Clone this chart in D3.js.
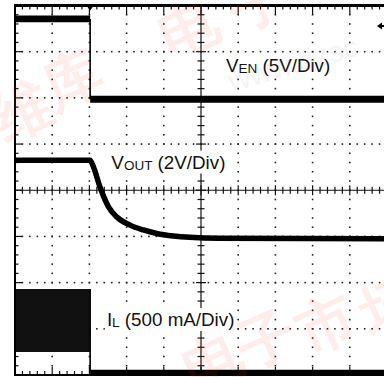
<!DOCTYPE html>
<meta charset="utf-8">
<style>
  body { margin: 0; background: #fff; }
  text { font-family: "Liberation Sans", Arial, Helvetica, sans-serif; }
</style>
<svg id="scope" width="384" height="377"></svg>
<script src="https://cdn.jsdelivr.net/npm/d3@7/dist/d3.min.js"></script>
<script>

// time axis in divisions (10 div across the screen)
var venTime  = [0, 2.02, 2.02, 10.2]
var venVolts = [8.7, 8.7, 0, 0]

var voutTime  = [0, 2.02, 2.10, 2.285, 2.51, 2.73, 3.09, 3.45, 3.81, 4.26, 4.70, 5.50, 10.2]
var voutVolts = [3.4, 3.4, 3.15, 2.24, 1.39, 0.95, 0.59, 0.38, 0.23, 0.12, 0.06, 0.02, 0]

// inductor current: switching envelope while enabled, then zero
var ilTime    = [0, 2.02]
var ilMinAmps = [0.22, 0.22]
var ilMaxAmps = [0.90, 0.90]
var ilOffTime = [2.02, 2.02, 10.2]
var ilOffAmps = [0.90, 0, 0]

var labelMain = ["V", "V", "I"]
var labelSub  = ["EN", "OUT", "L"]
var labelRest = [" (5V/Div)", " (2V/Div)", " (500 mA/Div)"]

var watermarkChars = ["维", "库", "电", "子", "电", "子", "市", "场"]

var svg = d3.select("#scope"),
    pLeft = 15, pTop = 5.5, pRight = 387, pBottom = 375

var x = d3.scaleLinear().domain([0, 10]).range([pLeft, pRight])
var y = d3.scaleLinear().domain([0, 8]).range([pBottom, pTop])

// channel scales: units per division and ground position (div from bottom)
var yEn   = v => y(5.97 + v / 5)
var yOut  = v => y(2.95 + v / 2)
var yIl   = a => y(0.06 + a / 0.5)

svg.append("defs").append("clipPath").attr("id", "plot")
  .append("rect").attr("x", pLeft).attr("y", pTop).attr("width", 384 - pLeft).attr("height", pBottom - pTop)

// dotted grid
var grid = svg.append("g")
d3.range(1, 10).filter(k => k != 5).forEach(function(k) {
  grid.selectAll(null).data(d3.range(0, 8.01, 0.2)).enter().append("rect")
    .attr("x", x(k) - 0.8).attr("y", d => y(d) - 0.8)
    .attr("width", 1.6).attr("height", 1.6).attr("fill", "#222")
})
d3.range(1, 8).filter(k => k != 4).forEach(function(k) {
  grid.selectAll(null).data(d3.range(0, 10.01, 0.2)).enter().append("rect")
    .attr("x", d => x(d) - 0.8).attr("y", y(k) - 0.8)
    .attr("width", 1.6).attr("height", 1.6).attr("fill", "#222")
})

// centre axes with ticks
var axes = svg.append("g").attr("stroke", "#111")
axes.append("line").attr("x1", x(5)).attr("x2", x(5)).attr("y1", pTop).attr("y2", pBottom).attr("stroke-width", 1.2)
axes.append("line").attr("x1", pLeft).attr("x2", 384).attr("y1", y(4)).attr("y2", y(4)).attr("stroke-width", 1.2)
function isMajor(d) { return Math.abs(d - Math.round(d)) < 0.01 }
axes.selectAll(null).data(d3.range(0, 8.01, 0.2)).enter().append("line")
  .attr("x1", d => x(5) - (isMajor(d) ? 5 : 3.5)).attr("x2", d => x(5) + (isMajor(d) ? 5 : 3.5))
  .attr("y1", d => y(d)).attr("y2", d => y(d)).attr("stroke-width", 1.2)
axes.selectAll(null).data(d3.range(0, 10.01, 0.2)).enter().append("line")
  .attr("y1", d => y(4) - (isMajor(d) ? 5 : 3.5)).attr("y2", d => y(4) + (isMajor(d) ? 5 : 3.5))
  .attr("x1", d => x(d)).attr("x2", d => x(d)).attr("stroke-width", 1.2)

// border ticks
axes.selectAll(null).data(d3.range(0, 10.01, 0.2)).enter().append("line")
  .attr("x1", d => x(d)).attr("x2", d => x(d))
  .attr("y1", pTop).attr("y2", d => pTop + (isMajor(d) ? 9 : 4)).attr("stroke-width", 1.2)
axes.selectAll(null).data(d3.range(0, 10.01, 0.2)).enter().append("line")
  .attr("x1", d => x(d)).attr("x2", d => x(d))
  .attr("y1", pBottom).attr("y2", d => pBottom - (isMajor(d) ? 8 : 4)).attr("stroke-width", 1.2)
axes.selectAll(null).data(d3.range(0, 8.01, 0.2)).enter().append("line")
  .attr("y1", d => y(d)).attr("y2", d => y(d))
  .attr("x1", pLeft).attr("x2", d => pLeft + (isMajor(d) ? 7 : 3.5)).attr("stroke-width", 1.2)

// traces
var traces = svg.append("g").attr("clip-path", "url(#plot)")
var lineGen = d3.line()

function stepTrace(times, vals, yf, thick) {
  for (var i = 0; i < times.length - 1; i++) {
    var flat = vals[i] === vals[i + 1]
    traces.append("path")
      .attr("d", lineGen([[x(times[i]), yf(vals[i])], [x(times[i + 1]), yf(vals[i + 1])]]))
      .attr("fill", "none").attr("stroke", "#000")
      .attr("stroke-width", flat ? thick : 1.6)
  }
}

stepTrace(venTime, venVolts, yEn, 6.8)

traces.append("path")
  .attr("d", d3.line().curve(d3.curveMonotoneX)(voutTime.map((t, i) => [x(t), yOut(voutVolts[i])])))
  .attr("fill", "none").attr("stroke", "#000").attr("stroke-width", 5.5)
  .attr("stroke-linejoin", "round")

traces.append("path")
  .attr("d", d3.area().x(d => x(d[0])).y0(d => yIl(d[1])).y1(d => yIl(d[2]))(
    ilTime.map((t, i) => [t, ilMinAmps[i], ilMaxAmps[i]])))
  .attr("fill", "#111")
stepTrace(ilOffTime, ilOffAmps, yIl, 5)

// frame
svg.append("line").attr("x1", pLeft).attr("x2", pLeft).attr("y1", pTop - 1.5).attr("y2", pBottom + 1)
  .attr("stroke", "#000").attr("stroke-width", 2)
svg.append("line").attr("x1", pLeft).attr("x2", 384).attr("y1", pTop).attr("y2", pTop)
  .attr("stroke", "#000").attr("stroke-width", 3)
svg.append("line").attr("x1", pLeft).attr("x2", 384).attr("y1", pBottom).attr("y2", pBottom)
  .attr("stroke", "#000").attr("stroke-width", 2)

// trigger markers
svg.append("path").attr("d", "M" + (x(2.02) - 3) + "," + (pTop + 1) + "l6,0l-3,4z").attr("fill", "#000")
svg.append("path").attr("d", "M377,26l5,-3.5v2.5h3v2h-3v2.5z").attr("fill", "#000")

// labels with white boxes (position in divisions from left / from top)
var labelPos = [[5.67, 1.45], [2.59, 3.53], [2.47, 6.94]]
labelMain.forEach(function(m, i) {
  var g = svg.append("g")
  var t = g.append("text").attr("x", x(labelPos[i][0])).attr("y", y(8 - labelPos[i][1]))
    .attr("font-size", 18.8).attr("fill", "#111")
  t.append("tspan").text(m)
  t.append("tspan").text(labelSub[i]).attr("font-size", 13.5).attr("dy", 1)
  t.append("tspan").text(labelRest[i]).attr("dy", -1)
  var b = t.node().getBBox()
  g.insert("rect", "text").attr("x", b.x - 2).attr("y", b.y - 1)
    .attr("width", b.width + 4).attr("height", b.height + 2).attr("fill", "#fff")
})

// faint watermark
var wmPos = [[22, 112], [72, 80], [188, 28], [258, 2], [212, 362], [266, 340], [326, 324], [390, 306]]
var wm = svg.append("g").attr("fill", "#f04830").attr("opacity", 0.1)
  .attr("font-family", "Noto Sans CJK SC").attr("font-weight", "bold")
watermarkChars.forEach(function(c, i) {
  wm.append("text").text(c).attr("font-size", 58).attr("text-anchor", "middle")
    .attr("transform", "translate(" + wmPos[i] + ") rotate(-24)").attr("dy", "0.35em")
})
svg.append("text").text("www.dzsc").attr("font-size", 30).attr("fill", "#888").attr("opacity", 0.1)
  .attr("transform", "translate(232,92) rotate(-16)")

</script>
